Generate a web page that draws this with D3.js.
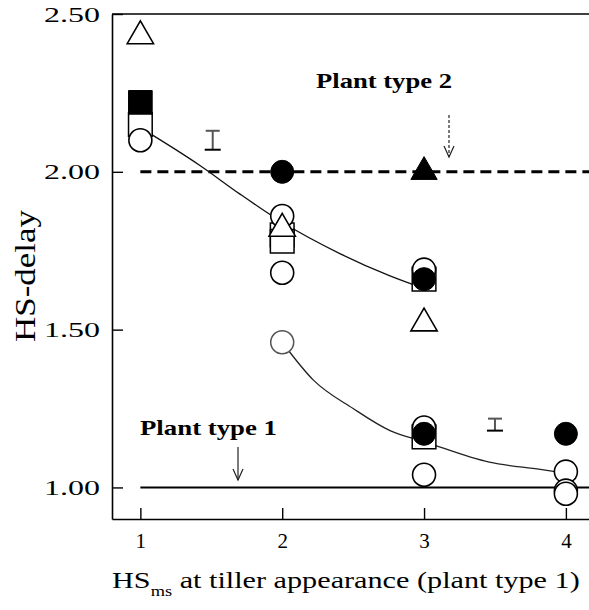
<!DOCTYPE html>
<html>
<head>
<meta charset="utf-8">
<script src="https://cdn.jsdelivr.net/npm/d3@7"></script>
<style>
  html, body { margin: 0; padding: 0; background: #fff; }
  svg { display: block; }
  text { font-family: "Liberation Serif", "Times New Roman", serif; fill: #000; }
</style>
</head>
<body>
<svg id="chart" width="589" height="610"></svg>
<script>
// Tick values
const xTicks = [1, 2, 3, 4];
const yTicks = [1.00, 1.50, 2.00, 2.50];

// Observations: [HS at tiller appearance, HS-delay]
const openCircles = [[1, 2.10], [2, 1.86], [2, 1.68], [3, 1.69], [3, 1.19], [3, 1.04], [4, 1.05], [4, 0.99], [4, 0.98]];
const greyCircles = [[2, 1.46]];
const filledCircles = [[2, 2.00], [3, 1.66], [3, 1.17], [4, 1.17]];
const openSquares = [[1, 2.15], [2, 1.80], [2, 1.78], [3, 1.66], [3, 1.16]];
const filledSquares = [[1, 2.22]];
const openTriangles = [[1, 2.43], [2, 1.82], [3, 1.52]];
const filledTriangles = [[3, 2.00]];

// Fitted curves
const upperFit = [[1, 2.14], [1.42, 2.02], [1.70, 1.93], [2.0, 1.84], [2.41, 1.74], [2.76, 1.67], [3.0, 1.63]];
const lowerFit = [[2, 1.46], [2.22, 1.34], [2.5, 1.25], [2.76, 1.18], [3.0, 1.145], [3.46, 1.08], [3.82, 1.057], [4, 1.045]];

// Reference levels for the two plant types
const plantType1Level = 1.00;
const plantType2Level = 2.00;

// Error bars: [x, low, high]
const errorBars = [[1.51, 2.07, 2.13], [3.50, 1.18, 1.218]];

const svg = d3.select("#chart");
const plotLeft = 112, plotRight = 590, plotTop = 14, plotBottom = 519;

const x = d3.scaleLinear().domain([0.8, 4.17]).range([plotLeft, plotRight]);
const y = d3.scaleLinear().domain([0.9, 2.5]).range([plotBottom, plotTop]);

// frame: top line
svg.append("line")
  .attr("x1", plotLeft).attr("x2", plotRight).attr("y1", plotTop).attr("y2", plotTop)
  .attr("stroke", "#000").attr("stroke-width", 1.6);

// y axis
const yAxis = svg.append("g")
  .attr("transform", `translate(${plotLeft},0)`)
  .call(d3.axisLeft(y).tickValues(yTicks).tickFormat(d3.format(".2f"))
    .tickSizeInner(-11).tickSizeOuter(0).tickPadding(12));
yAxis.select(".domain").attr("stroke-width", 1.6);
yAxis.selectAll(".tick line").attr("stroke-width", 1.4);
yAxis.selectAll(".tick text")
  .attr("font-size", 22)
  .attr("font-family", "Liberation Serif, serif")
  .attr("textLength", 56)
  .attr("lengthAdjust", "spacingAndGlyphs");

// x axis
const xAxis = svg.append("g")
  .attr("transform", `translate(0,${plotBottom})`)
  .call(d3.axisBottom(x).tickValues(xTicks).tickFormat(d3.format("d"))
    .tickSizeInner(-11).tickSizeOuter(0).tickPadding(14));
xAxis.select(".domain").attr("stroke-width", 1.6);
xAxis.selectAll(".tick line").attr("stroke-width", 1.4);
xAxis.selectAll(".tick text")
  .attr("font-size", 21)
  .attr("font-family", "Liberation Serif, serif");

// horizontal reference lines
svg.append("line")
  .attr("x1", x(1)).attr("x2", plotRight)
  .attr("y1", y(plantType2Level)).attr("y2", y(plantType2Level))
  .attr("stroke", "#000").attr("stroke-width", 3)
  .attr("stroke-dasharray", "11,6");
svg.append("line")
  .attr("x1", x(1)).attr("x2", plotRight)
  .attr("y1", y(plantType1Level)).attr("y2", y(plantType1Level))
  .attr("stroke", "#000").attr("stroke-width", 2);

// fitted curves
const line = d3.line().x(d => x(d[0])).y(d => y(d[1])).curve(d3.curveMonotoneX);
svg.append("path").datum(upperFit).attr("d", line)
  .attr("fill", "none").attr("stroke", "#111").attr("stroke-width", 1.3);
svg.append("path").datum(lowerFit).attr("d", line)
  .attr("fill", "none").attr("stroke", "#222").attr("stroke-width", 1.3);

// error bars
const eb = svg.append("g").attr("stroke", "#555").attr("stroke-width", 2);
errorBars.forEach(([cx, lo, hi]) => {
  eb.append("line").attr("x1", x(cx)).attr("x2", x(cx)).attr("y1", y(hi)).attr("y2", y(lo));
  eb.append("line").attr("x1", x(cx) - 7).attr("x2", x(cx) + 7).attr("y1", y(hi)).attr("y2", y(hi));
  eb.append("line").attr("x1", x(cx) - 8).attr("x2", x(cx) + 8).attr("y1", y(lo)).attr("y2", y(lo))
    .attr("stroke", "#000");
});

// markers
function drawMarkers(data, type, size, fill, stroke, sw) {
  const sym = d3.symbol().type(type).size(size);
  svg.append("g").selectAll("path").data(data).join("path")
    .attr("d", sym)
    .attr("transform", d => `translate(${x(d[0])},${y(d[1])})`)
    .attr("fill", fill).attr("stroke", stroke).attr("stroke-width", sw);
}
drawMarkers(openSquares, d3.symbolSquare, 560, "#fff", "#000", 1.5);
drawMarkers(openCircles, d3.symbolCircle, 415, "#fff", "#000", 1.6);
drawMarkers(greyCircles, d3.symbolCircle, 415, "#fff", "#555", 1.5);
drawMarkers(openTriangles, d3.symbolTriangle, 300, "#fff", "#000", 1.6);
drawMarkers(filledCircles, d3.symbolCircle, 415, "#000", "#000", 1);
drawMarkers(filledSquares, d3.symbolSquare, 560, "#000", "#000", 1);
drawMarkers(filledTriangles, d3.symbolTriangle, 300, "#000", "#000", 1);

// annotations
function arrow(ax, y1, y2, dashed) {
  const g = svg.append("g").attr("stroke", "#222").attr("fill", "none").attr("stroke-width", 1.2);
  g.append("line").attr("x1", ax).attr("x2", ax).attr("y1", y1).attr("y2", y2)
    .attr("stroke-dasharray", dashed ? "3,2" : null);
  g.append("path").attr("d", `M${ax - 5},${y2 - 11}L${ax},${y2}L${ax + 5},${y2 - 11}`);
}

svg.append("text")
  .attr("x", 316).attr("y", 88)
  .attr("font-size", 22).attr("font-weight", "bold")
  .attr("textLength", 136).attr("lengthAdjust", "spacingAndGlyphs")
  .text("Plant type 2");
arrow(449, 115, 157, true);

svg.append("text")
  .attr("x", 140).attr("y", 435)
  .attr("font-size", 22).attr("font-weight", "bold")
  .attr("textLength", 137).attr("lengthAdjust", "spacingAndGlyphs")
  .text("Plant type 1");
arrow(238, 447, 480, false);

// y axis title
svg.append("text")
  .attr("transform", "translate(35,276) rotate(-90)")
  .attr("text-anchor", "middle")
  .attr("font-size", 29)
  .attr("textLength", 132).attr("lengthAdjust", "spacingAndGlyphs")
  .text("HS-delay");

// x axis title with subscript
const xt = svg.append("text").attr("font-size", 23);
xt.append("tspan").text("HS");
xt.append("tspan").attr("font-size", 14).attr("dy", 8).text("ms");
xt.append("tspan").attr("dy", -8).text(" at tiller appearance (plant type 1)");
const w = xt.node().getComputedTextLength();
xt.attr("transform", `translate(112,588) scale(${468 / w},1)`);
</script>
</body>
</html>
